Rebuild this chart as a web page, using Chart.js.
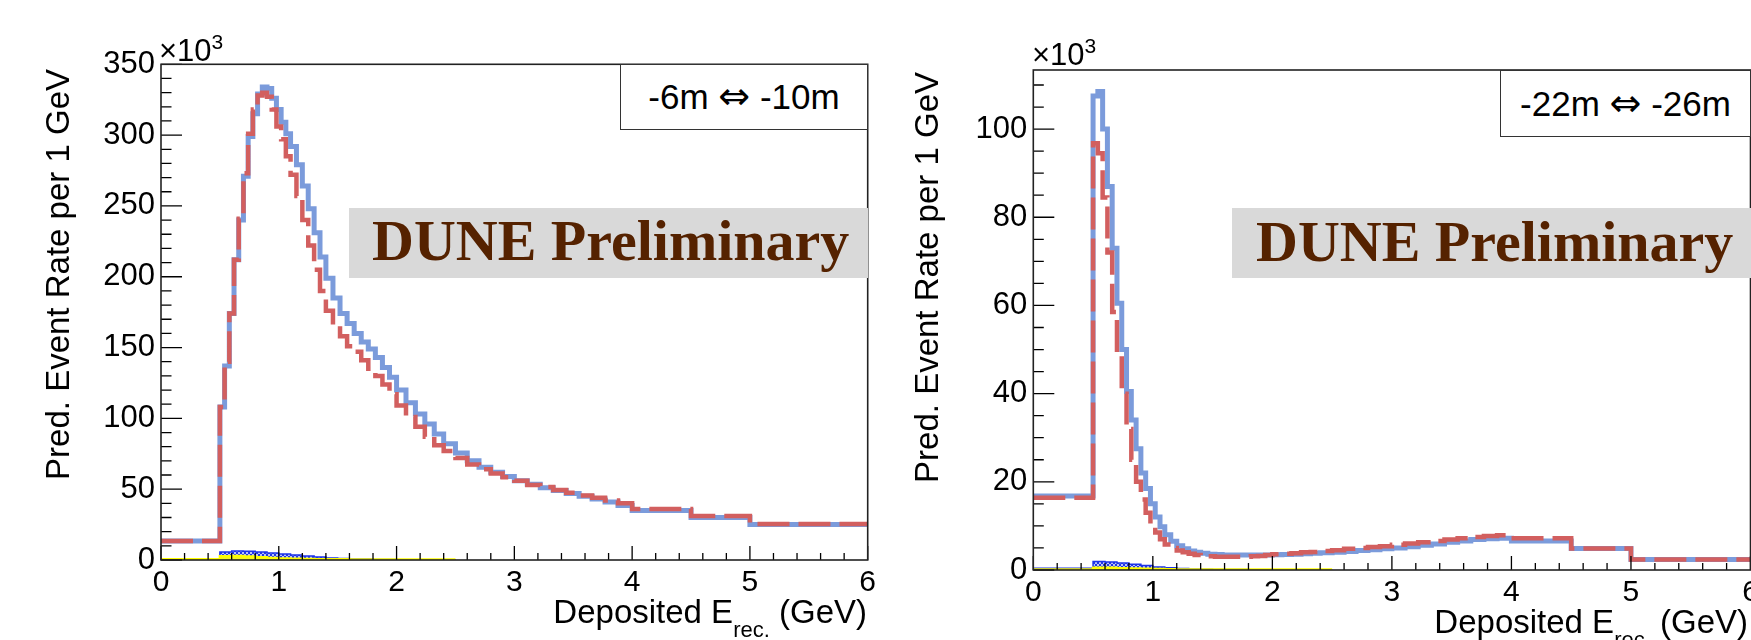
<!DOCTYPE html>
<html lang="en">
<head>
<meta charset="UTF-8">
<title>DUNE Preliminary — Deposited E_rec. spectra</title>
<script src="https://cdn.jsdelivr.net/npm/chart.js@4.4.0"></script>
<style>
  *{box-sizing:border-box;margin:0;padding:0}
  html,body{width:1751px;height:640px;overflow:hidden;background:#fff}
  body{position:relative;font-family:'Liberation Sans',Arial,Helvetica,sans-serif;color:#000}
  canvas{position:absolute;top:0}
  #cL{left:0}
  #cR{left:895px}
  .ytitle{position:absolute;width:440px;font-size:33px;line-height:33px;text-align:right;white-space:nowrap;transform-origin:0 0;transform:rotate(-90deg)}
  .xtitle{position:absolute;width:420px;font-size:33px;line-height:33px;text-align:right;white-space:nowrap}
  .xtitle span{font-size:22px;vertical-align:-14px;line-height:0}
  .exp{position:absolute;font-size:31px;line-height:31px;white-space:nowrap}
  .exp sup{font-size:21px;vertical-align:12px;line-height:0}
  .leg{position:absolute;background:#fff;border:1.5px solid #333;font-size:35px;text-align:center;white-space:nowrap}
  .leg b{font-weight:normal;font-family:'DejaVu Sans',sans-serif;font-size:38px}
  .dune{position:absolute;background:#d9d9d9;font-family:'Liberation Serif','Times New Roman',serif;font-weight:bold;font-size:58px;color:#552200;white-space:nowrap}
</style>
</head>
<body>

<canvas id="cL" width="895" height="640"></canvas>
<canvas id="cR" width="880" height="640"></canvas>

<!-- left panel text -->
<div class="exp" style="left:159px;top:35px">×10<sup>3</sup></div>
<div class="ytitle" style="left:41px;top:509px">Pred. Event Rate per 1 GeV</div>
<div class="xtitle" style="left:447px;top:595px">Deposited E<span>rec.</span> (GeV)</div>
<div class="leg" style="left:620px;top:64px;width:248px;height:66px;line-height:63px">-6m <b>⇔</b> -10m</div>
<div class="dune" style="left:349px;top:208px;width:519px;height:70px;line-height:66px;padding-left:23px">DUNE Preliminary</div>

<!-- right panel text -->
<div class="exp" style="left:1032px;top:39px">×10<sup>3</sup></div>
<div class="ytitle" style="left:910px;top:512px">Pred. Event Rate per 1 GeV</div>
<div class="xtitle" style="left:1328px;top:605px">Deposited E<span>rec.</span> (GeV)</div>
<div class="leg" style="left:1500px;top:70px;width:251px;height:67px;line-height:64px">-22m <b>⇔</b> -26m</div>
<div class="dune" style="left:1232px;top:208px;width:519px;height:70px;line-height:67px;padding-left:24px">DUNE Preliminary</div>

<script>
/* bin edges in GeV (same binning both panels) */
const edges = [0,0.5,0.54,0.58,0.62,0.66,0.70,0.74,0.78,0.82,0.86,0.90,0.94,0.98,1.02,1.06,1.10,
  1.15,1.20,1.25,1.30,1.35,1.40,1.46,1.52,1.58,1.64,1.70,1.76,1.82,1.88,1.94,2.00,
  2.08,2.16,2.24,2.32,2.40,2.50,2.60,2.70,2.80,2.90,3.00,3.11,3.22,3.33,3.44,3.55,3.66,3.77,3.88,
  4.00,4.50,5.00,6.00];

/* -6m <-> -10m, in units of 10^3 */
const blueL = [13.5,108,137,174,212,240,271,299,315,329,334,333,326,318,309,301,292,
  279,264,248,231,214,199,185,174,167,160,154,149,143,136,129,120,111,103,96,89,82,
  75.5,70,65.5,62,59,56,53.5,51,49,47,45,43,41,38.5,35,30,25];
const redL = [13.5,108,140,174,212,241,273,301,318,328,330,327,318,306,297,285,272,
  257,240,222,205,190,176,165,158,151,147,141,135,130,124,117,109,101,94,87,81,77,
  72,67.5,64,61,58.5,56,53,51.5,49.5,47.5,45.5,44,42,40,36,31,25.5];

/* -22m <-> -26m, in units of 10^3 */
const blueR = [16.8,107.5,108.5,100,87,73,60.5,50,40.5,34,27.5,22,18.5,15,12,9.8,8,
  6.5,5.5,4.8,4.3,4.0,3.8,3.6,3.5,3.4,3.4,3.4,3.4,3.4,3.4,3.4,3.45,3.5,3.6,3.7,3.8,3.9,
  4.0,4.2,4.4,4.6,4.8,5.0,5.3,5.6,5.9,6.3,6.6,6.9,7.1,7.2,6.6,4.9,2.4];
const redR = [16.4,96.8,94.5,84.5,72,58.5,49,40,32,25,20,16,13,10.5,8.5,7.0,5.8,
  5.0,4.4,4.0,3.7,3.4,3.2,3.1,3.0,3.0,3.0,3.0,3.0,3.1,3.2,3.4,3.6,3.7,3.8,4.0,4.1,4.3,
  4.5,4.8,5.0,5.2,5.4,5.7,6.0,6.3,6.6,6.9,7.2,7.5,7.7,7.9,7.2,4.9,2.4];

/* small background components (coarser binning, up to 2.5 GeV) */
const smallEdges = [0,0.5,0.6,0.7,0.8,0.9,1.0,1.1,1.2,1.3,1.4,1.5,1.6,1.8,2.0,2.5];
const hatchL  = [0.6,5.6,6.3,6.1,5.6,5.0,4.3,3.5,2.8,2.1,1.5,1.1,0.7,0.4,0.2];
const yellowL = [0.5,2.6,2.8,2.5,2.0,1.5,1.1,0.9,0.7,0.6,0.5,0.5,0.4,0.4,0.4];
const hatchR  = [0.4,1.9,1.8,1.6,1.3,1.0,0.7,0.5,0.35,0.25,0.15,0.1,0.1,0.05,0.05];
const yellowR = [0.1,0.5,0.5,0.4,0.35,0.3,0.2,0.15,0.1,0.1,0.1,0.1,0.1,0.1,0.1];

/* tick labels */
const xTicks  = [0,1,2,3,4,5,6];
const yTicksL = [0,50,100,150,200,250,300,350];
const yTicksR = [0,20,40,60,80,100];

Chart.defaults.font.family = "'Liberation Sans', Arial, Helvetica, sans-serif";

function histPts(e, v){
  const pts = v.map((y,i)=>({x:e[i], y:y}));
  pts.push({x:e[e.length-1], y:v[v.length-1]});
  return pts;
}

function dots(){
  const c = document.createElement('canvas'); c.width = 4; c.height = 4;
  const g = c.getContext('2d');
  g.fillStyle = '#b9c3f4'; g.fillRect(0,0,4,4);
  g.fillStyle = '#2236e6'; g.fillRect(0,0,2,2); g.fillRect(2,2,2,2);
  return g.createPattern(c,'repeat');
}

/* ROOT style: inward ticks on left/bottom + closed frame */
const rootAxes = {
  id:'rootAxes',
  afterDatasetsDraw(chart, args, o){
    const {ctx, chartArea:a, scales:{x,y}} = chart;
    ctx.save();
    ctx.strokeStyle = '#000';
    ctx.lineWidth = 1.3;
    ctx.beginPath();
    for (let i = 0; i <= 30; i++){
      const px = x.getPixelForValue(i*0.2);
      ctx.moveTo(px, a.bottom); ctx.lineTo(px, a.bottom - (i%5===0 ? 14 : 7));
    }
    const n = Math.floor(y.max/o.minor + 1e-6);
    for (let i = 0; i <= n; i++){
      const py = y.getPixelForValue(i*o.minor);
      ctx.moveTo(a.left, py); ctx.lineTo(a.left + (i%o.per===0 ? 21 : 10.5), py);
    }
    ctx.stroke();
    ctx.lineWidth = 1.6;
    ctx.strokeStyle = '#222';
    ctx.strokeRect(a.left, a.top, a.right-a.left, a.bottom-a.top);
    ctx.restore();
  }
};

function panel(id, blue, red, hatch, yellow, yMax, yTicks, minor, per, yw, pad){
  new Chart(document.getElementById(id), {
    type:'line',
    data:{datasets:[
      {data:histPts(edges, red), borderColor:'#d25f5f', borderWidth:4.5, borderDash:[32,9], stepped:'before', pointRadius:0, fill:false},
      {data:histPts(edges, blue), borderColor:'#7b9bdb', borderWidth:5, stepped:'before', pointRadius:0, fill:false},
      {data:histPts(smallEdges, yellow), borderColor:'#ffff00', backgroundColor:'#f5f51e', borderWidth:2.5, stepped:'before', pointRadius:0, fill:'origin'},
      {data:histPts(smallEdges, hatch), borderColor:'#1d33e8', backgroundColor:dots(), borderWidth:1.5, stepped:'before', pointRadius:0, fill:'origin'}
    ]},
    options:{
      responsive:false, animation:false, events:[],
      layout:{padding:pad},
      plugins:{legend:{display:false}, tooltip:{enabled:false}, rootAxes:{minor:minor, per:per}},
      scales:{
        x:{type:'linear', min:0, max:6,
           afterBuildTicks:s=>{s.ticks = xTicks.map(v=>({value:v}));},
           afterFit:s=>{s.height = 60;},
           grid:{display:false, drawTicks:false}, border:{display:false},
           ticks:{font:{size:30}, color:'#000', padding:5, maxRotation:0}},
        y:{type:'linear', min:0, max:yMax,
           afterBuildTicks:s=>{s.ticks = yTicks.map(v=>({value:v}));},
           afterFit:s=>{s.width = yw;},
           grid:{display:false, drawTicks:false}, border:{display:false},
           ticks:{font:{size:31}, color:'#000', padding:6}}
      }
    },
    plugins:[rootAxes]
  });
}

panel('cL', blueL, redL, hatchL, yellowL, 350, yTicksL, 10, 5, 161, {left:0, right:27.3, top:64.3, bottom:20});
panel('cR', blueR, redR, hatchR, yellowR, 113.4, yTicksR, 5, 4, 138.3, {left:0, right:24.5, top:70, bottom:10});
</script>

</body>
</html>
